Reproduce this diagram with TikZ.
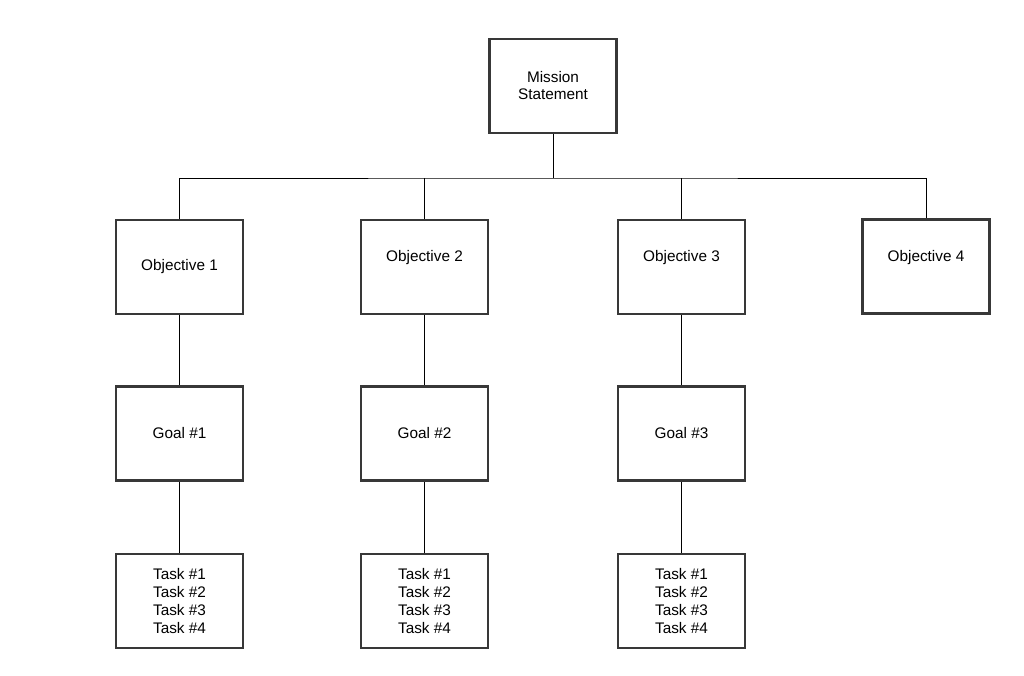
\documentclass[tikz,border=0pt]{standalone}
\usepackage{fontspec}
\setmainfont{Liberation Sans}
\usetikzlibrary{backgrounds}
\begin{document}
\begin{tikzpicture}[x=0.75pt,y=-0.75pt,
  box/.style={draw=black!78, line width=1.6pt, fill=white, minimum width=95.25pt, minimum height=70.5pt, inner sep=0pt, outer sep=0pt, align=center, font=\fontsize{11.5}{13.5}\selectfont},
  link/.style={draw=black, line width=0.75pt}]
\useasboundingbox (0,0) rectangle (1024,675);
\node[box, font=\fontsize{11.5}{12.75}\selectfont] (m) at (553,86) {Mission\\Statement};
\node[box] (o1) at (179.5,267) {Objective 1};
\node[box] (o2) at (424.5,267) {\raisebox{6.75pt}[\height][\depth]{Objective 2}};
\node[box] (o3) at (681.5,267) {\raisebox{6.75pt}[\height][\depth]{Objective 3}};
\node[box] (o4) at (926,266.5) {\raisebox{6.75pt}[\height][\depth]{Objective 4}};
\node[box] (g1) at (179.5,433.5) {Goal \#1};
\node[box] (g2) at (424.5,433.5) {Goal \#2};
\node[box] (g3) at (681.5,433.5) {Goal \#3};
\node[box] (t1) at (179.5,601) {Task \#1\\Task \#2\\Task \#3\\Task \#4};
\node[box] (t2) at (424.5,601) {Task \#1\\Task \#2\\Task \#3\\Task \#4};
\node[box] (t3) at (681.5,601) {Task \#1\\Task \#2\\Task \#3\\Task \#4};
\coordinate (bar) at (553,178);
\begin{scope}[on background layer]
\draw[link] (m.south) -- (bar);
\draw[link] (o1.north) |- (bar) -| (o4.north);
\draw[link] (o2.north) -- (o2.north |- bar);
\draw[link] (o3.north) -- (o3.north |- bar);
\draw[link] (o1.south) -- (g1.north);
\draw[link] (o2.south) -- (g2.north);
\draw[link] (o3.south) -- (g3.north);
\draw[link] (g1.south) -- (t1.north);
\draw[link] (g2.south) -- (t2.north);
\draw[link] (g3.south) -- (t3.north);
\end{scope}
\end{tikzpicture}
\end{document}
